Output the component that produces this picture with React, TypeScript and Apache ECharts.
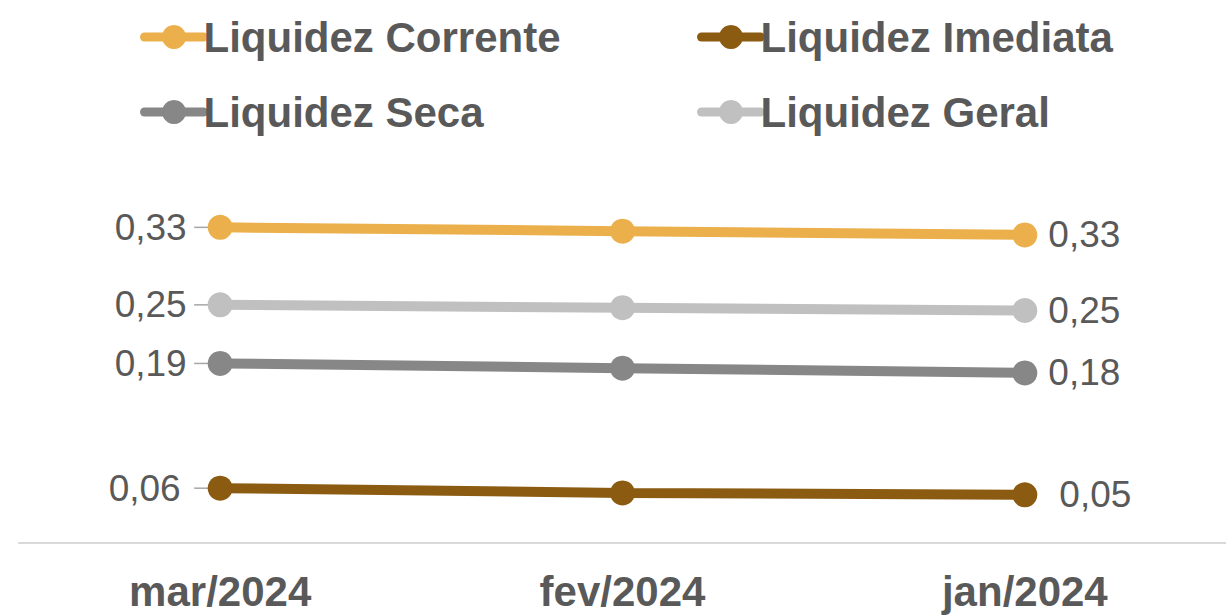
import React, { useEffect, useRef } from "react";
import * as echarts from "echarts";

const categories = ["mar/2024", "fev/2024", "jan/2024"];
const seriesNames = ["Liquidez Corrente", "Liquidez Imediata", "Liquidez Seca", "Liquidez Geral"];
const corrente = [0.334, 0.33, 0.326];
const imediata = [0.058, 0.053, 0.051];
const seca = [0.19, 0.185, 0.18];
const geral = [0.252, 0.249, 0.246];
const colors = ["#EBB04B", "#8B5B12", "#878787", "#C0C0C0"];

const FONT = "'Liberation Sans', Arial, sans-serif";
const TEXT = "#595959";

const fmt = (v: number) => v.toFixed(2).replace(".", ",");

export default function App() {
  const ref = useRef<HTMLDivElement>(null);
  useEffect(() => {
    if (!ref.current) return;
    const chart = echarts.init(ref.current, undefined, { renderer: "svg" });
    const allValues = [corrente, imediata, seca, geral];
    const last = categories.length - 1;
    const rightDist = [11, 22, 11, 11];
    const leftDist = [21, 27, 21, 21];

    const lineSeries = seriesNames.map((name, s) => ({
      type: "line",
      name,
      z: 3,
      data: allValues[s].map((v, i) => ({
        value: v,
        label: {
          show: i === 0 || i === last,
          position: i === 0 ? "left" : "right",
          distance: i === 0 ? leftDist[s] : rightDist[s],
        },
      })),
      symbol: "circle",
      symbolSize: 25,
      itemStyle: { color: colors[s] },
      lineStyle: { color: colors[s], width: 10 },
      label: {
        formatter: (p: any) => fmt(p.value),
        color: TEXT,
        fontFamily: FONT,
        fontSize: 37,
      },
    }));

    const leaderData = allValues.map((arr) => [0, arr[0]]);

    const legendPos = [
      { left: 140, top: 16 },
      { left: 697, top: 16 },
      { left: 140, top: 91 },
      { left: 697, top: 91 },
    ];

    chart.setOption({
      animation: false,
      legend: seriesNames.map((name, s) => ({
        data: [name],
        left: legendPos[s].left,
        top: legendPos[s].top,
        padding: 0,
        itemWidth: 59,
        itemHeight: 30,
        selectedMode: false,
        lineStyle: { width: 9, cap: "round" },
        textStyle: {
          color: TEXT,
          fontFamily: FONT,
          fontSize: 42,
          fontWeight: "bold",
          padding: [0, 0, 0, -5],
        },
      })),
      grid: { left: 19, right: 0, top: 182, bottom: 72, containLabel: false },
      xAxis: {
        type: "category",
        data: categories,
        boundaryGap: true,
        axisLine: { lineStyle: { color: "#D9D9D9", width: 2 } },
        axisTick: { show: false },
        axisLabel: {
          color: TEXT,
          fontFamily: FONT,
          fontSize: 42,
          fontWeight: "bold",
          margin: 27,
        },
      },
      yAxis: {
        type: "value",
        min: 0,
        max: 0.382,
        show: false,
        splitLine: { show: false },
      },
      series: [
        ...lineSeries,
        {
          type: "custom",
          name: "leader",
          z: 1,
          silent: true,
          data: leaderData,
          renderItem: (_params: any, api: any) => {
            const p = api.coord([api.value(0), api.value(1)]);
            return {
              type: "line",
              shape: { x1: p[0] - 26, y1: p[1], x2: p[0], y2: p[1] },
              style: { stroke: "#A6A6A6", lineWidth: 1.5 },
            };
          },
        },
      ],
    });
    return () => chart.dispose();
  }, []);

  return (
    <div
      ref={ref}
      style={{ position: "fixed", left: 0, top: 0, width: 1226, height: 615, background: "#fff" }}
    />
  );
}
